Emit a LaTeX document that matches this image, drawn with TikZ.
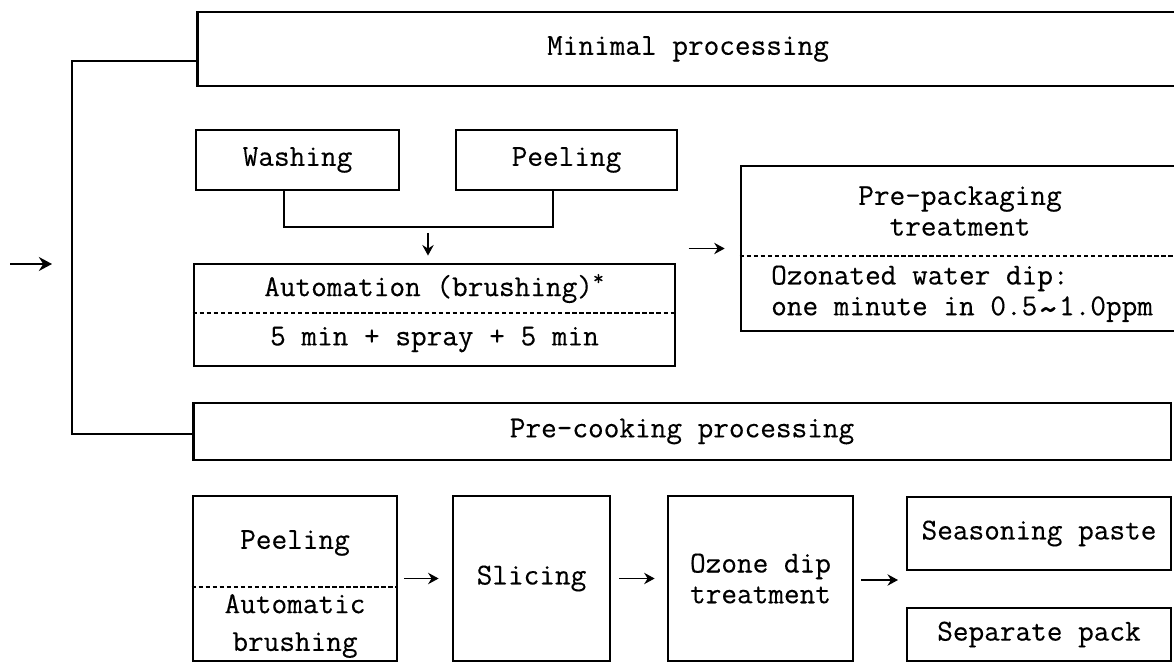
\documentclass[tikz,border=0pt]{standalone}
\usepackage{fontspec}
\newfontfamily\boxfont{Latin Modern Mono}[FakeBold=0.3]
\newcommand{\wavesign}{\raisebox{-0.55ex}{\fontsize{24}{17.5}\selectfont\textasciitilde}}
\usetikzlibrary{arrows.meta}

\begin{document}
\begin{tikzpicture}[x=0.02cm, y=-0.02cm,
  every node/.style={font=\fontsize{17.3}{17.5}\selectfont\boxfont},
  box/.style={draw, line width=1.6pt, inner sep=0pt},
  divider/.style={line width=0.6pt, dash pattern=on 2.5pt off 1.5pt},
  link/.style={line width=0.8pt},
  arr/.style={line width=0.8pt, -{Stealth[length=6pt,width=6.5pt,inset=2pt]}},
  arrin/.style={line width=0.8pt, -{Stealth[length=7.5pt,width=8pt,inset=2.5pt]}}]
  \useasboundingbox (0,0) rectangle (1174,662);
  % minimal processing branch
  \node[box, minimum width=19.64cm, minimum height=1.48cm] (mini) at (688,49) {Minimal processing};
  \node[box, minimum width=4.06cm, minimum height=1.2cm] (wash) at (297.5,160) {Washing};
  \node[box, minimum width=4.42cm, minimum height=1.2cm] (peel) at (566.5,160) {Peeling};
  \node[box, minimum width=9.62cm, minimum height=2.04cm] (auto) at (434.5,315) {};
  \node (autotop) at (434.5,288.5) {Automation (brushing)\textsuperscript{*}};
  \node (autobot) at (434.5,339.5) {5 min + spray + 5 min};
  \draw[divider] (auto.west |- 0,313) -- (auto.east |- 0,313);
  \node[box, minimum width=8.76cm, minimum height=3.3cm] (prepack) at (960,248.5) {};
  \node[align=center] (packtop) at (960,211) {Pre-packaging\\treatment};
  \node[align=left, anchor=west] (packbot) at (765,294) {Ozonated water dip:\\one minute in 0.5\wavesign1.0ppm};
  \draw[divider] (prepack.west |- 0,256) -- (prepack.east |- 0,256);
  % pre-cooking branch
  \node[box, minimum width=19.56cm, minimum height=1.14cm] (precook) at (682,431.5) {Pre-cooking processing};
  \node[box, minimum width=4.08cm, minimum height=3.3cm] (bpeel) at (295,578.5) {};
  \node (bpeeltop) at (295,543) {Peeling};
  \node[align=center] (bpeelbot) at (295,626) {Automatic\\[4pt]brushing};
  \draw[divider] (bpeel.west |- 0,587) -- (bpeel.east |- 0,587);
  \node[box, minimum width=3.14cm, minimum height=3.3cm] (slice) at (531.5,578.5) {Slicing};
  \node[box, minimum width=3.7cm, minimum height=3.3cm, align=center] (ozone) at (760.5,578.5) {Ozone dip\\treatment};
  \node[box, minimum width=5.28cm, minimum height=1.46cm] (season) at (1039,533.5) {Seasoning paste};
  \node[box, minimum width=5.28cm, minimum height=1.06cm] (separate) at (1039,634.5) {Separate pack};
  % connectors
  \coordinate (in0) at (10,264);
  \coordinate (in1) at (52,264);
  \draw[arrin] (in0) -- (in1);
  \draw[link] (mini.west |- 0,61) -| (72,434) -- (precook.west |- 0,434);
  \draw[link] (wash.south -| 284,0) |- (553,227) -| (peel.south -| 553,0);
  \coordinate (join) at (428,233);
  \draw[arr, shorten >=4pt] (join) -- (join |- auto.north);
  \draw[arr, shorten <=7pt, shorten >=8.5pt] (auto.east |- prepack.west) -- (prepack.west);
  \draw[arr, shorten <=3.4pt, shorten >=7.4pt] (bpeel) -- (slice);
  \draw[arr, shorten <=4.5pt, shorten >=6.8pt] (slice) -- (ozone);
  \coordinate (fork) at (898,580);
  \draw[arr, shorten <=4pt] (fork -| ozone.east) -- (fork);
\end{tikzpicture}
\end{document}
